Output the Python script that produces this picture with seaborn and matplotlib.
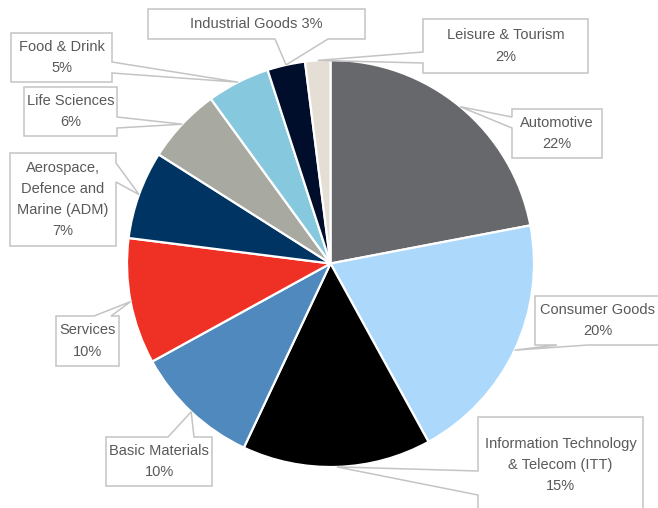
import numpy as np
import matplotlib
matplotlib.use("Agg")
import matplotlib.pyplot as plt
from matplotlib.patches import Polygon
import seaborn as sns

# Sector shares (%), clockwise from 12 o'clock
sectors = ["Automotive", "Consumer Goods", "Information Technology\n& Telecom (ITT)",
           "Basic Materials", "Services", "Aerospace,\nDefence and\nMarine (ADM)",
           "Life Sciences", "Food & Drink", "Industrial Goods", "Leisure & Tourism"]
shares = [22, 20, 15, 10, 10, 7, 6, 5, 3, 2]
colors = ["#67686c", "#acd8fb", "#000000", "#4f89bd", "#ee3124",
          "#003462", "#a8aaa2", "#86c8de", "#000e2c", "#e4ded4"]

# Callout boxes in pixel space (x0, y0, x1, y1 from top-left), pointer side and
# the two points on that side where the pointer leaves the box
callouts = [
    ((512, 109, 602, 158), "left", (117, 128)),
    ((535, 296, 662, 345), "bottom", (557, 588)),
    ((478, 417, 643, 512), "left", (471, 495)),
    ((106, 437, 212, 486), "top", (168, 194)),
    ((56, 316, 119, 366), "top", (94, 111)),
    ((10, 153, 116, 246), "right", (163, 182)),
    ((24, 87, 117, 136), "right", (117, 128)),
    ((11, 33, 112, 82), "right", (62, 73)),
    ((148, 9, 365, 39), "bottom", (275, 328)),
    ((423, 19, 588, 73), "left", (52, 63)),
]
single_line = {"Industrial Goods"}

W, H = 658, 508
CX, CY, R = 330.5, 263.5, 203.5

sns.set_theme(style="white")
plt.rcParams["font.family"] = ["Liberation Sans", "DejaVu Sans"]

fig = plt.figure(figsize=(W / 100, H / 100), dpi=100)
ax = fig.add_axes([0, 0, 1, 1])


def fy(y):
    return H - y


ax.pie(shares, colors=colors, startangle=90, counterclock=False,
       center=(CX, fy(CY)), radius=R,
       wedgeprops=dict(edgecolor="white", linewidth=1.6))

total = float(sum(shares))
start = 90.0
for name, val, (box, side, (a, b)) in zip(sectors, shares, callouts):
    span = 360.0 * val / total
    mid = np.deg2rad(start - span / 2)
    start -= span
    tip = (CX + R * np.cos(mid), CY - R * np.sin(mid))
    x0, y0, x1, y1 = box
    if side == "left":
        pts = [(x0, y0), (x1, y0), (x1, y1), (x0, y1), (x0, b), tip, (x0, a)]
    elif side == "right":
        pts = [(x0, y0), (x1, y0), (x1, a), tip, (x1, b), (x1, y1), (x0, y1)]
    elif side == "top":
        pts = [(x0, y0), (a, y0), tip, (b, y0), (x1, y0), (x1, y1), (x0, y1)]
    else:
        pts = [(x0, y0), (x1, y0), (x1, y1), (b, y1), tip, (a, y1), (x0, y1)]
    ax.add_patch(Polygon([(x, fy(y)) for x, y in pts], closed=True,
                         facecolor="white", edgecolor="#c4c4c4", linewidth=1.1,
                         zorder=3))
    if name in single_line:
        text = f"{name} {val}%"
    else:
        text = f"{name}\n{val}%"
    tx = (x0 + min(x1, W)) / 2
    ty = (y0 + min(y1, H + 14)) / 2
    if name.startswith("Information"):
        ty = 465
    if name == "Consumer Goods":
        tx = 598
    ax.text(tx, fy(ty), text, ha="center", va="center", fontsize=10.5,
            color="#595959", linespacing=1.65, zorder=4)

ax.set_xlim(0, W)
ax.set_ylim(0, H)
ax.set_aspect("auto")
ax.axis("off")

fig.savefig("out.png", dpi=100, facecolor="white")
